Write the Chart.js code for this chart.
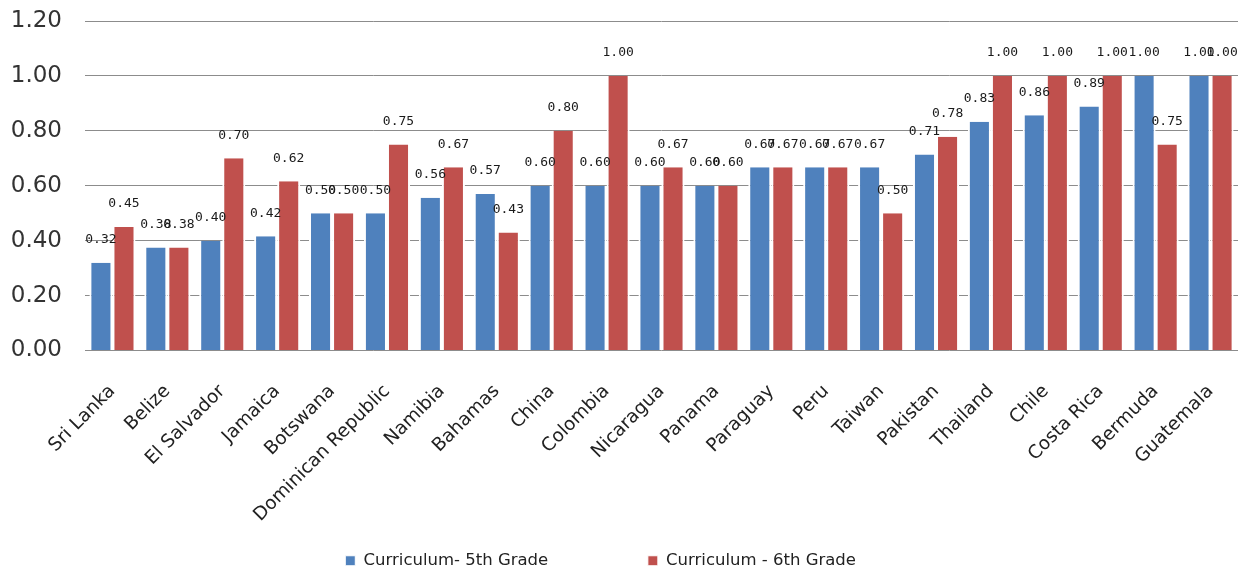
<!DOCTYPE html>
<html lang="en">
<head>
  <meta charset="UTF-8">
  <title>Curriculum by Country</title>
  <script src="https://cdn.jsdelivr.net/npm/chart.js"></script>
  <style>
    body { margin: 0; background: #fff; }
    #wrap { width: 1238px; height: 569px; position: relative; }
  </style>
</head>
<body>
  <div id="wrap"><canvas id="barChart"></canvas></div>
  <script>
    const countries = ['Sri Lanka', 'Belize', 'El Salvador', 'Jamaica', 'Botswana', 'Dominican Republic',
      'Namibia', 'Bahamas', 'China', 'Colombia', 'Nicaragua', 'Panama', 'Paraguay', 'Peru', 'Taiwan',
      'Pakistan', 'Thailand', 'Chile', 'Costa Rica', 'Bermuda', 'Guatemala'];
    const grade5 = [0.32, 0.375, 0.40, 0.416, 0.50, 0.50, 0.556, 0.57, 0.60, 0.60, 0.60, 0.60,
      0.667, 0.667, 0.667, 0.714, 0.833, 0.857, 0.889, 1.00, 1.00];
    const grade6 = [0.45, 0.375, 0.70, 0.616, 0.50, 0.75, 0.667, 0.43, 0.80, 1.00, 0.667, 0.60,
      0.667, 0.667, 0.50, 0.778, 1.00, 1.00, 1.00, 0.75, 1.00];
    const yTicks = [0, 0.2, 0.4, 0.6, 0.8, 1.0, 1.2];

    // simple value labels above each bar
    const valueLabels = {
      id: 'valueLabels',
      afterDatasetsDraw(chart) {
        const ctx = chart.ctx;
        ctx.save();
        ctx.font = '13px "DejaVu Sans Mono"';
        ctx.fillStyle = '#1a1a1a';
        ctx.textAlign = 'center';
        ctx.textBaseline = 'middle';
        chart.data.datasets.forEach((ds, i) => {
          chart.getDatasetMeta(i).data.forEach((bar, j) => {
            ctx.fillText(ds.data[j].toFixed(2), bar.x, bar.y - 23);
          });
        });
        ctx.restore();
      }
    };

    // nudge the legend a bit lower, closer to the bottom edge
    const legendNudge = {
      id: 'legendNudge',
      afterLayout(chart) {
        chart.legend.top += 10;
        chart.legend.bottom += 10;
      }
    };

    new Chart(document.getElementById('barChart'), {
      type: 'bar',
      data: {
        labels: countries,
        datasets: [
          { label: 'Curriculum- 5th Grade', data: grade5, backgroundColor: '#4F81BD',
            borderColor: '#fff', borderWidth: { left: 2, right: 2 } },
          { label: 'Curriculum - 6th Grade', data: grade6, backgroundColor: '#C0504D',
            borderColor: '#fff', borderWidth: { left: 2, right: 2 } }
        ]
      },
      options: {
        responsive: true,
        maintainAspectRatio: false,
        animation: false,
        layout: { padding: 0 },
        datasets: { bar: { categoryPercentage: 0.84, barPercentage: 1 } },
        plugins: {
          legend: {
            position: 'bottom',
            labels: {
              boxWidth: 10, boxHeight: 10, padding: 0,
              color: '#222', font: { family: 'DejaVu Sans', size: 16.5 },
              // widen the gap between the two entries
              generateLabels: chart => Chart.defaults.plugins.legend.labels.generateLabels(chart)
                .map((item, i) => ({ ...item, text: item.text + '\u00a0'.repeat(i === 0 ? 19 : 7) }))
            }
          },
          tooltip: { enabled: false }
        },
        scales: {
          x: {
            afterFit: axis => {
              axis.height = 192;
              axis.paddingLeft = 0;
              axis.paddingRight = 0;
            },
            grid: { display: false },
            border: { display: false },
            ticks: {
              minRotation: 45, maxRotation: 45, autoSkip: false, padding: 22,
              color: '#222', font: { family: 'DejaVu Sans', size: 18.5 }
            }
          },
          y: {
            min: 0, max: 1.2,
            afterFit: axis => {
              axis.width = 85;
              axis.paddingTop = 21;
              axis.paddingBottom = 0;
            },
            afterBuildTicks: axis => { axis.ticks = yTicks.map(v => ({ value: v })); },
            grid: { color: '#8c8c8c', drawTicks: false },
            border: { display: false },
            ticks: {
              padding: 23,
              color: '#333', font: { family: 'DejaVu Sans', size: 23 },
              callback: v => v.toFixed(2)
            }
          }
        }
      },
      plugins: [valueLabels, legendNudge]
    });
  </script>
</body>
</html>
